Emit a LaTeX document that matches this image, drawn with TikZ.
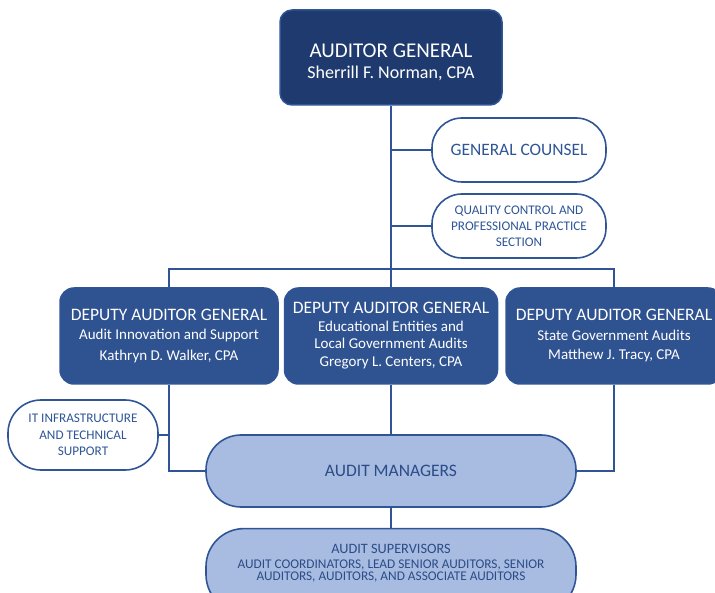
\documentclass[tikz,border=0pt]{standalone}
\usepackage{fontspec}
\setmainfont{Carlito}
\usetikzlibrary{positioning,calc}
\definecolor{Navy}{HTML}{1F3A6E}
\definecolor{Royal}{HTML}{2F5291}
\definecolor{Sky}{HTML}{A8BCE2}
\definecolor{Edge}{HTML}{2F5597}
\definecolor{Ink}{HTML}{2B4C86}
\tikzset{
  link/.style={line width=1.8pt,draw=Edge},
  topbox/.style={draw=Edge,fill=Navy,rounded corners=12pt,text=white,line width=1.5pt,align=center},
  deputybox/.style={draw=Edge,fill=Royal,rounded corners=14pt,text=white,line width=1.5pt,align=center,minimum height=96pt},
  pillbox/.style={draw=Edge,fill=white,text=Edge,line width=1.6pt,align=center},
  staffbox/.style={draw=Edge,fill=Sky,text=Ink,line width=1.6pt,align=center,minimum width=370pt}
}
\newcommand{\fs}[1]{\fontsize{#1}{#1}\selectfont}

\begin{document}
\begin{tikzpicture}[x=1pt,y=-1pt,inner sep=0pt]
  \useasboundingbox (0,0) rectangle (715,593);
  % top level
  \node[topbox,minimum width=222pt,minimum height=95pt] (ag) at (391,57.5)
    {{\fs{21}\rule{0pt}{23pt}AUDITOR GENERAL}\\[8pt]{\fs{18}Sherrill F. Norman, CPA}};
  \node[pillbox,rounded corners=30pt,minimum width=174pt,minimum height=64pt] (gc) at (519,150)
    {\fs{17.4}GENERAL COUNSEL};
  \node[pillbox,rounded corners=30pt,minimum width=174pt,minimum height=64pt] (qc) at (519,226)
    {\fs{13.2}QUALITY CONTROL AND\\[4pt]\fs{13.2}PROFESSIONAL PRACTICE\\[4pt]\fs{13.2}SECTION};
  % deputies
  \node[deputybox,minimum width=218pt] (dl) at (169,336)
    {{\fs{17.5}DEPUTY AUDITOR GENERAL}\\[7.5pt]{\fs{15}Audit Innovation and Support}\\[7.5pt]{\fs{15}Kathryn D. Walker, CPA}};
  \node[deputybox,minimum width=213pt] (dm) at (391,336)
    {{\fs{17.5}DEPUTY AUDITOR GENERAL}\\[6pt]{\fs{15}Educational Entities and}\\[5pt]{\fs{15}Local Government Audits}\\[6pt]{\fs{15}Gregory L. Centers, CPA}};
  \node[deputybox,minimum width=216pt] (dr) at (614,336)
    {{\fs{17.5}DEPUTY AUDITOR GENERAL}\\[7.5pt]{\fs{15}State Government Audits}\\[7.5pt]{\fs{15}Matthew J. Tracy, CPA}};
  % lower level
  \node[pillbox,rounded corners=33pt,minimum width=150pt,minimum height=70pt] (it) at (83,435)
    {\fs{13.2}IT INFRASTRUCTURE\\[4.5pt]\fs{13.2}AND TECHNICAL\\[4.5pt]\fs{13.2}SUPPORT};
  \node[staffbox,rounded corners=35pt,minimum height=72pt] (am) at (391,471)
    {\fs{17.5}AUDIT MANAGERS};
  \node[staffbox,rounded corners=38pt,minimum height=84pt,below=20pt of am] (as)
    {{\fs{14.3}AUDIT SUPERVISORS}\\[3pt]{\fs{13.3}AUDIT COORDINATORS, LEAD SENIOR AUDITORS, SENIOR}\\[0.5pt]{\fs{13.3}AUDITORS, AUDITORS, AND ASSOCIATE AUDITORS}\\[4pt]};
  % connectors
  \coordinate (bar) at (391,269);
  \draw[link] (ag.south) -- (dm.north);
  \draw[link] (ag.south |- gc.west) -- (gc.west);
  \draw[link] (ag.south |- qc.west) -- (qc.west);
  \draw[link] (dl.north) -- (dl.north |- bar) -- (dr.north |- bar) -- (dr.north);
  \draw[link] (dm.south) -- (am.north);
  \draw[link] (dl.south) |- (am.west);
  \draw[link] (dr.south) |- (am.east);
  \draw[link] (it.east) -- (it.east -| dl.south);
  \draw[link] (am.south) -- (as.north);
\end{tikzpicture}
\end{document}
